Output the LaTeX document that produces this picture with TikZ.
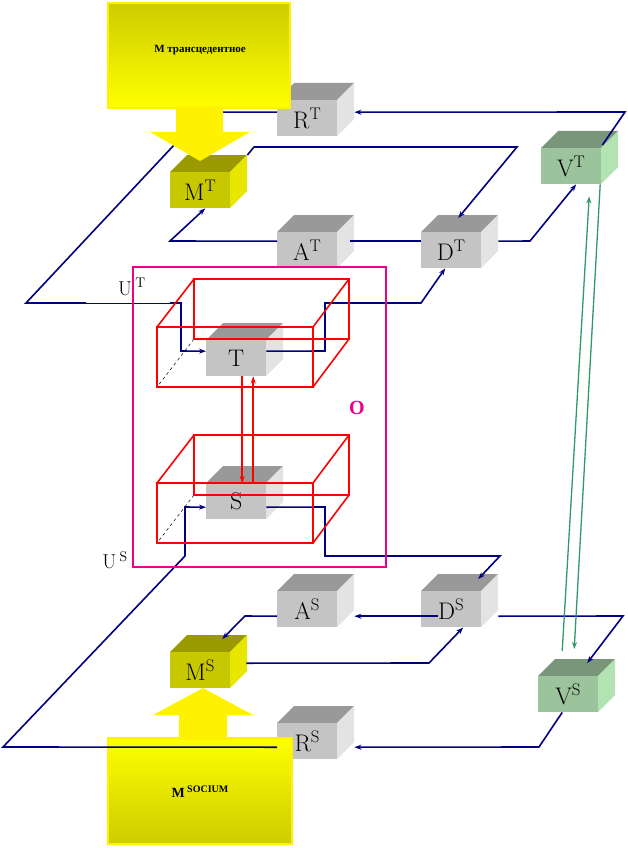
\documentclass[tikz,border=0pt]{standalone}
\usepackage{fontspec}
\newfontfamily\tnr{Liberation Serif}
\usetikzlibrary{arrows.meta}
\definecolor{navy}{RGB}{0,0,128}
\definecolor{gfront}{RGB}{196,196,196}\definecolor{gtop}{RGB}{153,153,153}\definecolor{gside}{RGB}{227,227,227}
\definecolor{mfront}{RGB}{200,200,0}\definecolor{mtop}{RGB}{154,154,0}\definecolor{mside}{RGB}{230,230,0}
\definecolor{vfront}{RGB}{156,196,156}\definecolor{vtop}{RGB}{122,150,122}\definecolor{vside}{RGB}{179,227,179}
\definecolor{olive}{RGB}{204,204,0}\definecolor{grn}{RGB}{46,154,106}
\tikzset{
 bl/.style={navy,line width=1.6pt,line join=miter},
 arr/.style={-{Stealth[length=7pt,width=5pt]}},
 cubefront/.style={minimum width=60pt,minimum height=36pt,inner sep=0pt,anchor=north west,font=\fontsize{24}{24}\selectfont},
 redb/.style={red,line width=1.6pt},
 hid/.style={black,dashed,line width=0.5pt},
 ybox/.style={draw=yellow,line width=2.5pt},
}
\newcommand\mycube[7]{%
 \fill[#5] (#2,#3) -- ++(17,-17) -- ++(60,0) -- ++(-17,17) -- cycle;
 \fill[#6] (#2+60,#3) -- ++(17,-17) -- ++(0,36) -- ++(-17,17) -- cycle;
 \node[cubefront,fill=#4] (#1) at (#2,#3) {#7};}
\begin{document}
\begin{tikzpicture}[x=1pt,y=-1pt]
\useasboundingbox (0,0) rectangle (628,848);
% hidden edges of red boxes
\draw[hid] (194,279)--(194,339)--(349,339) (194,339)--(157,387);
\draw[hid] (194,435)--(194,495)--(349,495) (194,495)--(157,543);
% cubes
\mycube{RT}{277}{100}{gfront}{gtop}{gside}{$\mathrm{R}^{\mathrm{T}}$}
\mycube{MT}{170}{172}{mfront}{mtop}{mside}{$\mathrm{M}^{\mathrm{T}}$}
\mycube{AT}{277}{232}{gfront}{gtop}{gside}{$\mathrm{A}^{\mathrm{T}}$}
\mycube{DT}{421}{232}{gfront}{gtop}{gside}{$\mathrm{D}^{\mathrm{T}}$}
\mycube{VT}{541}{148}{vfront}{vtop}{vside}{$\mathrm{V}^{\mathrm{T}}$}
\mycube{T}{206}{340}{gfront}{gtop}{gside}{T}
\mycube{S}{206}{483}{gfront}{gtop}{gside}{S}
\mycube{AS}{277}{591}{gfront}{gtop}{gside}{$\mathrm{A}^{\mathrm{S}}$}
\mycube{DS}{421}{591}{gfront}{gtop}{gside}{$\mathrm{D}^{\mathrm{S}}$}
\mycube{MS}{170}{652}{mfront}{mtop}{mside}{$\mathrm{M}^{\mathrm{S}}$}
\mycube{VS}{538}{676}{vfront}{vtop}{vside}{$\mathrm{V}^{\mathrm{S}}$}
\mycube{RS}{277}{723}{gfront}{gtop}{gside}{$\mathrm{R}^{\mathrm{S}}$}
% top loops
\draw[bl,arr] ([shift={(1,-3)}]VT.north east) -- (625,112) -- ([shift={(17,-6)}]RT.east);
\draw[bl] ([shift={(0,-6)}]RT.west) -- (205,112) -- (26,303) -- (86,303);
\draw[navy,line width=0.8pt] (86,303) -- (170,303);
\draw[bl,arr] (170,303) -- (181,303) -- (181,351) -- ([shift={(0,-7)}]T.west);
\draw[bl,arr] ([shift={(0,-7)}]T.east) -- (325,351) -- (325,303) -- (421,303) -- ([shift={(-6,0)}]DT.south);
\draw[bl,arr] ([shift={(17,-9)}]DT.east) -- (530,241) -- ([shift={(5,0)}]VT.south);
\draw[bl] ([shift={(0,-9)}]DT.west) -- ([shift={(13,-9)}]AT.east);
\draw[bl,arr] ([shift={(0,-9)}]AT.west) -- (170,241) -- ([shift={(5,0)}]MT.south);
\draw[bl,arr] ([shift={(17,-17)}]MT.north east) -- (254,147) -- (517,147) -- ([shift={(7,-14)}]DT.north);
% bottom loops
\draw[bl,arr] ([shift={(17,7)}]DS.west) -- ([shift={(0,7)}]DS.west) -- ([shift={(17,7)}]AS.east);
\draw[bl,arr] ([shift={(0,7)}]AS.west) -- (245,616) -- ([shift={(22,-13)}]MS.north);
\draw[bl,arr] ([shift={(16,-7)}]MS.east) -- (429,663) -- ([shift={(12,0)}]DS.south);
\draw[bl,arr] ([shift={(17,7)}]DS.east) -- (623,616) -- ([shift={(19,-13)}]VS.north);
\draw[bl,arr] ([shift={(0,6)}]S.east) -- (325,507) -- (325,556) -- (500,556) -- ([shift={(27,-12)}]DS.north);
% green
\draw[grn,line width=1.3pt,arr] ([shift={(29,0)}]VT.south) -- ([shift={(6,-27)}]VS.north);
\draw[grn,line width=1.3pt,arr] ([shift={(-6,-25)}]VS.north) -- ([shift={(18,12)}]VT.south);
% yellow top
\shade[top color=olive,bottom color=yellow] (108,3) rectangle (290,108);
\draw[ybox] (108,3) rectangle (290,108);
\node[font=\tnr\bfseries\fontsize{11}{11}\selectfont] (mtr) at (200,50) {М трансцедентное};
\fill[yellow] (176,106) -- (223,106) -- (223,132) -- (250,132) -- (200,161) -- (150,132) -- (176,132) -- cycle;
% yellow bottom
\shade[top color=yellow,bottom color=olive] (108,738) rectangle (292,844);
\draw[ybox] (108,738) rectangle (292,844);
\node[font=\tnr\bfseries\fontsize{14}{14}\selectfont] (msoc) at (200,792) {M\,\raisebox{5pt}{\fontsize{10}{10}\selectfont SOCIUM}};
\fill[yellow] (179,740) -- (227,740) -- (227,715) -- (253,715) -- (203,688) -- (153,715) -- (179,715) -- cycle;
\draw[bl,arr] ([shift={(-6,0)}]VS.south) -- (539,747) -- ([shift={(17,6)}]RS.east);
\draw[bl,arr] ([shift={(0,6)}]RS.west) -- (3,747) -- (185,556) -- (185,507) -- ([shift={(0,6)}]S.west);
% red boxes
\draw[redb] (157,327) rectangle (313,387) (194,279) rectangle (349,339)
 (157,327)--(194,279) (313,327)--(349,279) (313,387)--(349,339);
\draw[redb] (157,483) rectangle (313,543) (194,435) rectangle (349,495)
 (157,483)--(194,435) (313,483)--(349,435) (313,543)--(349,495);
\draw[redb,arr] ([shift={(6,0)}]T.south) -- ([shift={(6,0)}]S.north);
\draw[redb,arr] ([shift={(17,0)}]S.north) -- ([shift={(17,0)}]T.south);
% magenta
\draw[magenta,line width=2pt] (133,267) rectangle (386,567);
\node[magenta,font=\tnr\bfseries\fontsize{20}{20}\selectfont] (O) at (357,408) {O};
\node[font=\fontsize{20}{20}\selectfont] (UT) at (132,287) {U\,$^{\mathrm{T}}$};
\node[font=\fontsize{20}{20}\selectfont] (US) at (115,560) {U\,$^{\mathrm{S}}$};
\end{tikzpicture}
\end{document}
